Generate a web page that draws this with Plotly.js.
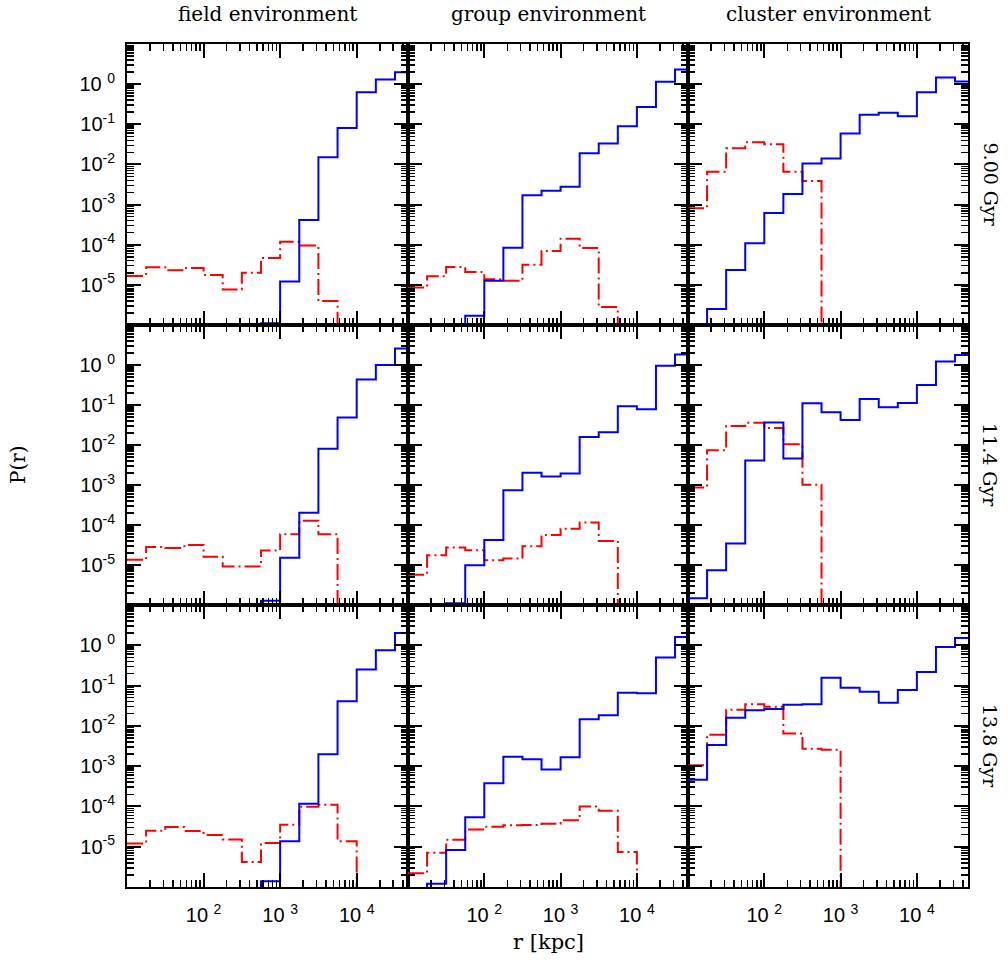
<!DOCTYPE html>
<html>
<head>
<meta charset="utf-8">
<script src="https://cdn.plot.ly/plotly-3.0.1.min.js"></script>
<style>html,body{margin:0;padding:0;background:#fff;}#chart{width:1008px;height:960px;}</style>
</head>
<body>
<div id="chart"></div>
<script>
// ---- data ----
// histogram bin edges in r [kpc] (4 bins per decade)
const binEdges = [10, 17.78, 31.62, 56.23, 100, 177.8, 316.2, 562.3, 1000, 1778, 3162, 5623, 10000, 17783, 31623, 56234];

const environments = ["field environment", "group environment", "cluster environment"];
const epochs = ["9.00 Gyr", "11.4 Gyr", "13.8 Gyr"];

// P(r), blue solid histograms (0 = empty bin)
const field_900_blue   = [0,0,0,0,0,0,0,1.1e-6,1.21e-5,4.1e-4,1.52e-2,0.081,0.63,1.31,1.98];
const group_900_blue   = [0,0,0,1.7e-6,1.26e-5,8.4e-5,1.70e-3,2.22e-3,2.79e-3,1.91e-2,3.32e-2,0.089,0.269,1.14,2.31];
const cluster_900_blue = [0,2.49e-6,2.35e-5,1.08e-4,6.2e-4,1.84e-3,1.06e-2,1.41e-2,5.87e-2,0.174,0.195,0.158,0.63,1.46,1.16];
const field_114_blue   = [0,0,0,0,0,0,0,1.28e-6,1.51e-5,2.03e-4,8.1e-3,4.89e-2,0.431,1.0,2.6];
const group_114_blue   = [0,0,1.1e-6,9.9e-6,4.24e-5,7.4e-4,2.01e-3,1.63e-3,1.93e-3,1.58e-2,2.07e-2,0.0935,0.0788,0.96,1.84];
const cluster_114_blue = [1.47e-6,7.4e-6,3.43e-5,4.07e-3,3.67e-2,4.57e-3,0.111,0.0663,0.0419,0.142,0.0883,0.113,0.318,1.23,1.77];
const field_138_blue   = [0,0,0,0,0,0,0,1.38e-6,1.36e-5,1.17e-4,1.96e-3,4.07e-2,0.249,0.751,2.02];
const group_138_blue   = [0,1.2e-6,8.3e-6,5.35e-5,3.74e-4,1.72e-3,1.48e-3,8.3e-4,1.66e-3,1.45e-2,1.83e-2,0.0668,0.0643,0.494,1.61];
const cluster_138_blue = [4.61e-4,3.35e-3,1.6e-2,2.43e-2,2.62e-2,3.36e-2,3.42e-2,0.157,0.0889,0.0707,0.0377,0.0778,0.218,0.91,1.52];

// P(r), red dash-dot histograms (0 = empty bin)
const field_900_red   = [1.67e-5,2.74e-5,2.31e-5,2.64e-5,1.77e-5,7.66e-6,1.99e-5,4.67e-5,1.19e-4,9.6e-5,3.94e-6,0,0,0,0];
const group_900_red   = [8.6e-6,1.64e-5,2.79e-5,2.1e-5,1.38e-5,1.26e-5,3.19e-5,6.97e-5,1.41e-4,8.26e-5,2.79e-6,0,0,0,0];
const cluster_900_red = [8.1e-4,6.58e-3,2.54e-2,3.58e-2,3.19e-2,6.58e-3,3.86e-3,0,0,0,0,0,0,0,0];
const field_114_red   = [1.35e-5,2.83e-5,2.67e-5,3.18e-5,1.6e-5,9.2e-6,9.2e-6,2.3e-5,5.86e-5,1.28e-4,5.86e-5,0,0,0,0];
const group_114_red   = [5.7e-6,1.76e-5,2.73e-5,2.34e-5,1.32e-5,1.45e-5,2.94e-5,5.64e-5,8.1e-5,1.16e-4,4.0e-5,0,0,0,0];
const cluster_114_red = [8.7e-4,7.37e-3,2.97e-2,3.6e-2,2.65e-2,1.04e-2,1.01e-3,0,0,0,0,0,0,0,0];
const field_138_red   = [1.21e-5,2.5e-5,3.08e-5,2.45e-5,1.95e-5,1.52e-5,4.16e-6,1.23e-5,3.52e-5,9.85e-5,1.1e-4,1.36e-5,0,0,0];
const group_138_red   = [2.18e-6,7.1e-6,1.49e-5,2.69e-5,3.14e-5,3.39e-5,3.45e-5,3.72e-5,4.51e-5,1.0e-4,7.8e-5,7.4e-6,0,0,0];
const cluster_138_red = [1.05e-3,6.04e-3,2.52e-2,3.42e-2,3.0e-2,6.5e-3,2.72e-3,2.56e-3,0,0,0,0,0,0,0];

// tick labels
const xTickVals = [100, 1000, 10000];
const xTickText = ["10 <sup>2</sup>", "10 <sup>3</sup>", "10 <sup>4</sup>"];
const yTickVals = [1, 0.1, 0.01, 0.001, 0.0001, 0.00001];
const yTickText = ["10 <sup>0</sup>", "10<sup>-1</sup>", "10<sup>-2</sup>", "10<sup>-3</sup>", "10<sup>-4</sup>", "10<sup>-5</sup>"];

// ---- build ----
const blueRows = [
  [field_900_blue, group_900_blue, cluster_900_blue],
  [field_114_blue, group_114_blue, cluster_114_blue],
  [field_138_blue, group_138_blue, cluster_138_blue]
];
const redRows = [
  [field_900_red, group_900_red, cluster_900_red],
  [field_114_red, group_114_red, cluster_114_red],
  [field_138_red, group_138_red, cluster_138_red]
];

const W = 1008, H = 960;
const colPx = [[127, 408], [408, 688], [688, 968]];
const rowPx = [[44, 325], [325, 605], [605, 887]];
const FLOOR = 1e-9; // empty bins drawn below the visible range

function stepY(vals) {
  const y = vals.map(v => v > 0 ? v : FLOOR);
  y.push(y[y.length - 1]);
  return y;
}

const data = [];
const layout = {
  width: W, height: H,
  margin: {l: 0, r: 0, t: 0, b: 0},
  paper_bgcolor: "#fff", plot_bgcolor: "#fff",
  showlegend: false,
  font: {family: "Liberation Sans, Arial, sans-serif", color: "#000", size: 16},
  annotations: []
};

const serif = "DejaVu Serif, Liberation Serif, serif";
const tickFont = {size: 20, family: "Liberation Sans, Arial, sans-serif", color: "#000"};

for (let r = 0; r < 3; r++) {
  for (let c = 0; c < 3; c++) {
    const idx = r * 3 + c + 1;
    const xa = "x" + (idx === 1 ? "" : idx);
    const ya = "y" + (idx === 1 ? "" : idx);
    data.push({
      x: binEdges, y: stepY(redRows[r][c]), xaxis: xa, yaxis: ya,
      type: "scatter", mode: "lines",
      line: {shape: "hv", color: "#ff0000", width: 2, dash: "16px,4px,2px,4px"},
      hoverinfo: "skip"
    });
    data.push({
      x: binEdges, y: stepY(blueRows[r][c]), xaxis: xa, yaxis: ya,
      type: "scatter", mode: "lines",
      line: {shape: "hv", color: "#0000ff", width: 2},
      hoverinfo: "skip"
    });
    const common = {
      type: "log", showline: true, mirror: "allticks", linecolor: "#000", linewidth: 2,
      ticks: "inside", ticklen: 14, tickwidth: 2, tickcolor: "#000",
      showgrid: false, zeroline: false, fixedrange: true,
      minor: {ticks: "inside", ticklen: 7, tickwidth: 1.5, tickcolor: "#000", dtick: "D1", showgrid: false}
    };
    layout["xaxis" + (idx === 1 ? "" : idx)] = Object.assign({}, common, {
      anchor: ya,
      domain: [colPx[c][0] / W, colPx[c][1] / W],
      range: [1, 4.67],
      tickmode: "array", tickvals: xTickVals, ticktext: xTickText,
      showticklabels: r === 2,
      ticklabelstandoff: 9,
      tickfont: tickFont
    });
    layout["yaxis" + (idx === 1 ? "" : idx)] = Object.assign({}, common, {
      anchor: xa,
      domain: [1 - rowPx[r][1] / H, 1 - rowPx[r][0] / H],
      range: [-6, 1],
      tickmode: "array", tickvals: yTickVals, ticktext: yTickText,
      showticklabels: c === 0,
      ticklabelstandoff: 6,
      tickfont: tickFont
    });
  }
}

// column titles
for (let c = 0; c < 3; c++) {
  layout.annotations.push({
    text: environments[c], xref: "paper", yref: "paper",
    x: (colPx[c][0] + colPx[c][1]) / 2 / W, y: 1 - 14 / H,
    xanchor: "center", yanchor: "middle", showarrow: false,
    font: {family: serif, size: 20, color: "#000"}
  });
}
// row labels
for (let r = 0; r < 3; r++) {
  layout.annotations.push({
    text: epochs[r], xref: "paper", yref: "paper",
    x: 990 / W, y: 1 - ((rowPx[r][0] + rowPx[r][1]) / 2) / H,
    xanchor: "center", yanchor: "middle", showarrow: false, textangle: 90,
    font: {family: serif, size: 19, color: "#000"}
  });
}
// axis titles
layout.annotations.push({
  text: "P(r)", xref: "paper", yref: "paper", x: 18 / W, y: 1 - 465 / H,
  xanchor: "center", yanchor: "middle", showarrow: false, textangle: -90,
  font: {family: serif, size: 20, color: "#000"}
});
layout.annotations.push({
  text: "r [kpc]", xref: "paper", yref: "paper", x: 548 / W, y: 1 - 942 / H,
  xanchor: "center", yanchor: "middle", showarrow: false,
  font: {family: serif, size: 21, color: "#000"}
});

Plotly.newPlot("chart", data, layout, {staticPlot: true, displayModeBar: false});
</script>
</body>
</html>
